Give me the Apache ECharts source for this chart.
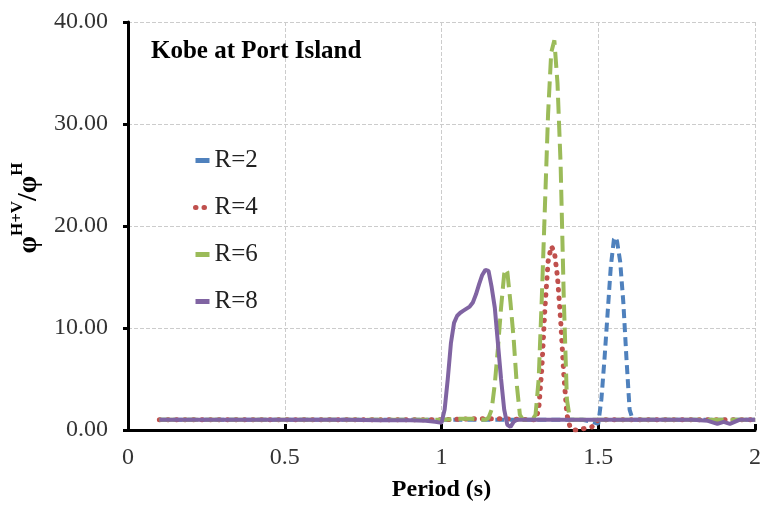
<!DOCTYPE html>
<html><head><meta charset="utf-8">
<script src="https://cdn.jsdelivr.net/npm/echarts@6/dist/echarts.min.js"></script>
<style>html,body{margin:0;padding:0;background:#fff}#c{width:763px;height:507px}</style>
</head><body><div id="c"></div>
<script>
const seriesNames = ['R=2', 'R=4', 'R=6', 'R=8'];
const xTicks = [0, 0.5, 1, 1.5, 2];
const yTicks = [0, 10, 20, 30, 40];

const r2 = [[0.1,1.0],[0.3,1.0],[0.5,1.0],[0.7,1.0],[0.9,1.0],[1.1,1.0],[1.3,1.0],[1.45,1.0],[1.48,0.8],[1.50,0.6],[1.51,3],[1.52,7],[1.53,11.5],[1.54,16],[1.55,18.7],[1.555,18.9],[1.56,18.5],[1.57,16.5],[1.58,12.5],[1.59,7],[1.60,2],[1.61,1.0],[1.7,1.0],[1.8,1.0],[1.9,1.0],[2.0,1.0]];
const r4 = [[0.1,1.0],[0.3,1.0],[0.5,1.0],[0.7,1.0],[0.9,1.0],[1.0,1.0],[1.1,1.1],[1.2,1.1],[1.29,1.0],[1.30,1.0],[1.31,2],[1.32,6],[1.33,12],[1.34,16.5],[1.35,18],[1.36,17.5],[1.37,15],[1.38,10.8],[1.39,5.5],[1.40,1.5],[1.41,0.3],[1.42,0],[1.44,0],[1.46,0.2],[1.48,0.3],[1.50,1.0],[1.6,1.0],[1.8,1.0],[2.0,1.0]];
const r6 = [[0.1,1.0],[0.3,1.0],[0.5,1.0],[0.7,1.0],[0.9,1.0],[1.0,1.0],[1.05,1.1],[1.1,1.1],[1.14,1.0],[1.15,1.2],[1.16,2],[1.17,4.5],[1.18,8],[1.19,12],[1.20,15.3],[1.205,15.8],[1.21,15.5],[1.22,12.5],[1.23,9],[1.24,4.5],[1.25,1.5],[1.26,1.0],[1.29,1.0],[1.30,1.5],[1.31,5],[1.32,13],[1.33,22],[1.34,31],[1.35,37],[1.36,38.2],[1.37,34],[1.38,26],[1.39,13],[1.40,3],[1.41,1.0],[1.5,1.0],[1.7,1.0],[1.9,1.0],[2.0,1.0]];
const r8 = [[0.1,1.0],[0.2,1.0],[0.3,1.0],[0.4,1.0],[0.5,1.0],[0.6,1.0],[0.7,1.0],[0.8,0.95],[0.9,0.95],[0.95,0.9],[0.98,0.8],[1.0,0.7],[1.01,2],[1.02,5],[1.03,8.5],[1.04,10.5],[1.05,11.2],[1.06,11.5],[1.07,11.7],[1.08,11.9],[1.09,12.1],[1.10,12.5],[1.11,13.3],[1.12,14.3],[1.13,15.2],[1.14,15.7],[1.15,15.6],[1.16,14],[1.17,12],[1.18,8.5],[1.19,5],[1.20,2],[1.21,0.5],[1.22,0.3],[1.23,0.8],[1.24,1.0],[1.3,1.0],[1.4,1.0],[1.5,1.0],[1.6,1.0],[1.7,1.0],[1.8,1.0],[1.85,0.9],[1.88,0.6],[1.9,0.8],[1.92,0.6],[1.95,1.0],[2.0,1.0]];

const colors = ['#4F81BD', '#C0504D', '#9BBB59', '#8064A2'];
const serif = 'Liberation Serif';

const chart = echarts.init(document.getElementById('c'));
chart.setOption({
  animation: false,
  backgroundColor: '#fff',
  title: {
    text: 'Kobe at Port Island', left: 151, top: 39, padding: 0,
    textStyle: {fontFamily: serif, fontWeight: 'bold', fontSize: 25, color: '#000'}
  },
  legend: {
    orient: 'vertical', left: 193, top: 148, padding: 0, itemWidth: 14, itemHeight: 10, itemGap: 22,
    data: [
      {name: seriesNames[0], lineStyle: {type: 'solid', width: 5}},
      {name: seriesNames[1], lineStyle: {type: [0.5, 8], cap: 'round', width: 5}},
      {name: seriesNames[2], lineStyle: {type: 'solid', width: 5}},
      {name: seriesNames[3], lineStyle: {type: 'solid', width: 5}}
    ],
    itemStyle: {opacity: 0},
    textStyle: {fontFamily: serif, fontSize: 25, color: '#222'}
  },
  grid: {left: 128, right: 8, top: 22, bottom: 77, outerBoundsMode: 'none'},
  xAxis: {
    type: 'value', min: xTicks[0], max: xTicks[xTicks.length-1], interval: 0.5,
    name: 'Period (s)', nameLocation: 'middle', nameGap: 48,
    nameTextStyle: {fontFamily: serif, fontWeight: 'bold', fontSize: 24, color: '#000'},
    axisLine: {lineStyle: {color: '#000', width: 3}},
    axisTick: {inside: true, length: 6, lineStyle: {color: '#000', width: 3}},
    axisLabel: {margin: 16, fontFamily: serif, fontSize: 24, color: '#333',
      formatter: v => String(v)},
    splitLine: {show: true, lineStyle: {color: '#ccc', type: 'dashed', width: 1}}
  },
  yAxis: {
    type: 'value', min: yTicks[0], max: yTicks[yTicks.length-1], interval: 10,
    name: '{b|φ}{s|H+V}{b|/φ}{s|H}', nameLocation: 'middle', nameGap: 84, nameRotate: 90,
    nameTextStyle: {
      padding: [0, 0, 0, 36],
      rich: {
        b: {fontFamily: serif, fontWeight: 'bold', fontSize: 28, color: '#000', lineHeight: 34, verticalAlign: 'bottom'},
        s: {fontFamily: serif, fontWeight: 'bold', fontSize: 17, color: '#000', lineHeight: 34, verticalAlign: 'top'}
      }
    },
    axisLine: {show: true, lineStyle: {color: '#000', width: 3}},
    axisTick: {show: true, length: 5, lineStyle: {color: '#000', width: 3}},
    axisLabel: {margin: 20, fontFamily: serif, fontSize: 24, color: '#333',
      formatter: v => v.toFixed(2)},
    splitLine: {show: true, lineStyle: {color: '#ccc', type: 'dashed', width: 1}}
  },
  series: [
    {name: seriesNames[0], type: 'line', data: r2, symbol: 'none', color: colors[0],
     lineStyle: {width: 4, type: [9, 5], color: colors[0]}},
    {name: seriesNames[1], type: 'line', data: r4, symbol: 'none', color: colors[1],
     lineStyle: {width: 5, type: [0.5, 8], cap: 'round', color: colors[1]}},
    {name: seriesNames[2], type: 'line', data: r6, symbol: 'none', color: colors[2],
     lineStyle: {width: 4, type: [16, 7], color: colors[2]}},
    {name: seriesNames[3], type: 'line', data: r8, symbol: 'none', color: colors[3],
     lineStyle: {width: 4, color: colors[3]}}
  ]
});
</script></body></html>
